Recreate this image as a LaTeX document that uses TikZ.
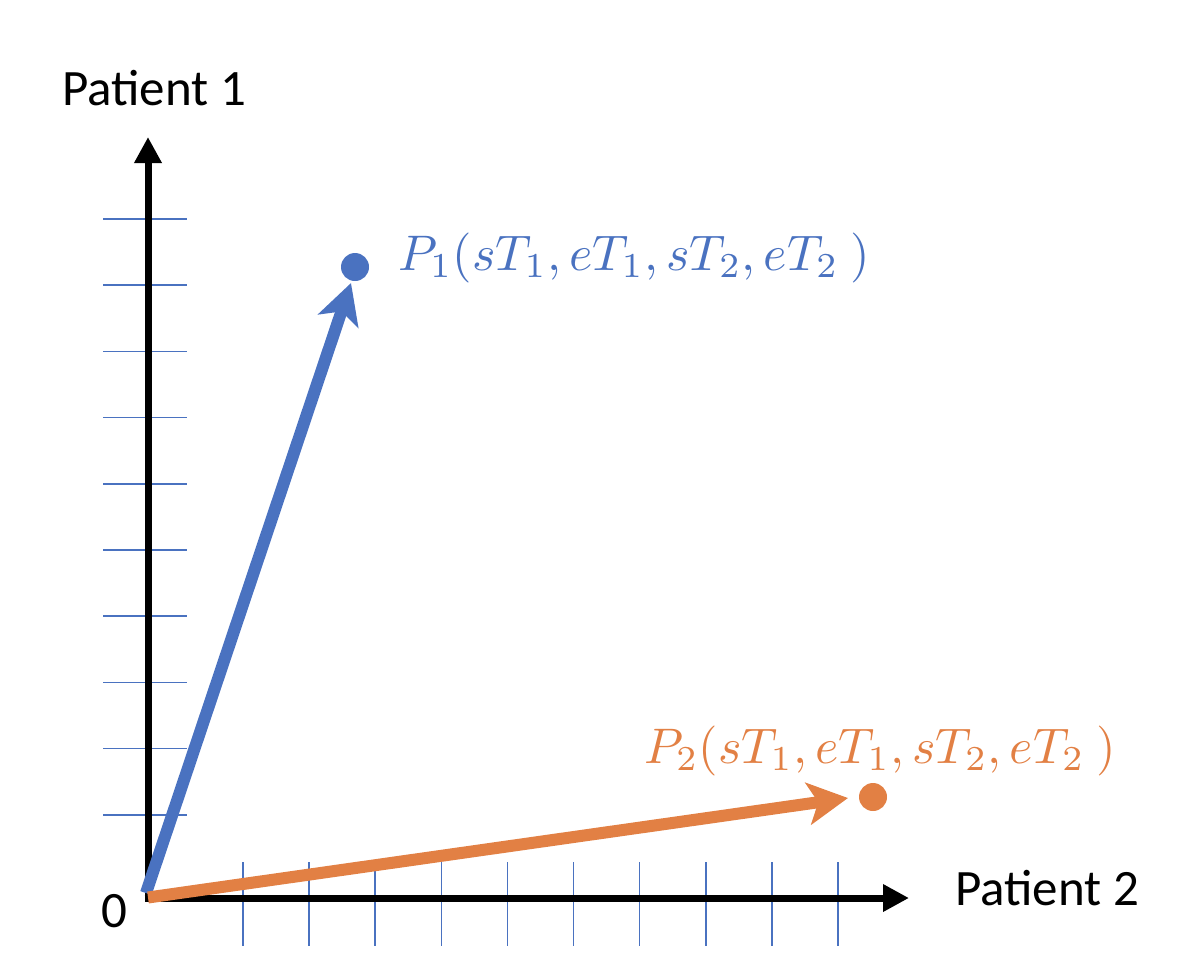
\documentclass[tikz,border=0pt]{standalone}
\usepackage{graphicx}
\usepackage{fontspec}
\setmainfont{Carlito}
\usetikzlibrary{arrows.meta}
\definecolor{pblue}{RGB}{74,114,192}
\definecolor{porange}{RGB}{226,128,68}
\newcommand{\bigmath}[1]{\scalebox{5}{\fontsize{10}{12}\selectfont$#1$}}
\begin{document}
\begin{tikzpicture}[x=1pt,y=-1pt,
  axis/.style={line width=7pt,-{Triangle[length=26pt,width=26pt]}},
  vec/.style={line width=12pt,-{Stealth[length=40pt,width=42pt,inset=10pt]}},
  tickmark/.style={pblue,line width=1.6pt},
  lbl/.style={inner sep=0pt,font=\fontsize{51}{60}\selectfont},
  dot/.style={circle,inner sep=0pt,minimum size=28pt}]
\useasboundingbox (0,0) rectangle (1186,978);
% ticks
\foreach \i in {0,...,9} {
  \draw[tickmark] (103,{219+66.2*\i}) -- (187,{219+66.2*\i});
  \draw[tickmark] ({243+66.1*\i},862) -- ({243+66.1*\i},946);
}
% axes
\coordinate (ybot) at (148,901.5);
\coordinate (ytop) at (148,137);
\coordinate (xbeg) at (144.5,898);
\coordinate (xend) at (909,898);
\draw[axis] (ybot) -- (ytop);
\draw[axis] (xbeg) -- (xend);
% points
\node[dot,fill=pblue] (p1) at (355,267) {};
\node[dot,fill=porange] (p2) at (873,797) {};
% vectors
\coordinate (b0) at (146,893);
\coordinate (b1) at (351,283);
\coordinate (o0) at (148,897.5);
\coordinate (o1) at (848,798);
\draw[vec,pblue] (b0) -- (b1);
\draw[vec,porange] (o0) -- (o1);
% labels
\node[inner sep=0pt,anchor=base west,text=pblue] (l1) at (398,270) {\bigmath{P_1(sT_1, eT_1, sT_2, eT_2\ )}};
\node[inner sep=0pt,anchor=base west,text=porange] (l2) at (644,763) {\bigmath{P_2(sT_1, eT_1, sT_2, eT_2\ )}};
\node[lbl,anchor=base west] (ylab) at (62,105) {Patient 1};
\node[lbl,anchor=base west] (xlab) at (955,905) {Patient 2};
\node[lbl,anchor=base] (zero) at (114,927) {0};
\end{tikzpicture}
\end{document}
